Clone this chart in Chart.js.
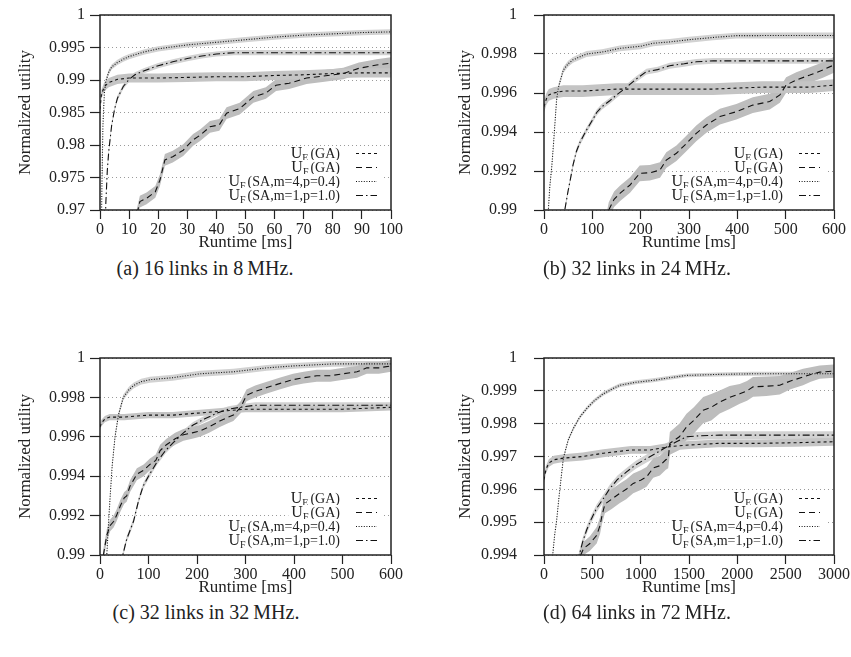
<!DOCTYPE html>
<html>
<head>
<meta charset="utf-8">
<title>Normalized utility vs runtime</title>
<script src="https://cdn.jsdelivr.net/npm/chart.js@4.4.1/dist/chart.umd.min.js"></script>
<style>
  body { margin: 0; background: #fff; }
  #page { position: relative; width: 851px; height: 657px; overflow: hidden;
          font-family: "Liberation Serif", "DejaVu Serif", serif; color: #222; }
  .panel { position: absolute; }
  .caption { position: absolute; font-size: 20px; white-space: nowrap; transform: translate(-50%, -50%); }
</style>
</head>
<body>
<div id="page">
  <div class="panel" style="left:0;top:0"><canvas id="chartA" width="425" height="255"></canvas></div>
  <div class="panel" style="left:420px;top:0"><canvas id="chartB" width="431" height="255"></canvas></div>
  <div class="panel" style="left:0;top:343px"><canvas id="chartC" width="425" height="257"></canvas></div>
  <div class="panel" style="left:420px;top:343px"><canvas id="chartD" width="431" height="257"></canvas></div>
  <div class="caption" style="left:205px;top:268px">(a) 16 links in 8&#8201;MHz.</div>
  <div class="caption" style="left:637px;top:268px">(b) 32 links in 24&#8201;MHz.</div>
  <div class="caption" style="left:206px;top:612px">(c) 32 links in 32&#8201;MHz.</div>
  <div class="caption" style="left:637px;top:612px">(d) 64 links in 72&#8201;MHz.</div>
</div>
<script>
// legend
const keySub = ['E', 'F', 'F', 'F'];
const keyRest = ['(GA)', '(GA)', '(SA,m=4,p=0.4)', '(SA,m=1,p=1.0)'];

// (a) 16 links in 8 MHz
const aGaE_x = [0, 0.5, 1.5, 3, 6, 10, 20, 30, 40, 50, 60, 70, 80, 90, 100];
const aGaE_y = [0.9855, 0.9878, 0.989, 0.9896, 0.9901, 0.9903, 0.9903, 0.9904, 0.9905, 0.9905, 0.9907, 0.9908, 0.991, 0.9911, 0.9911];
const aGaE_e = 0.0007;
const aGaF_x = [12, 13.7, 16, 19, 20.6, 22.3, 25, 28.6, 32, 34.4, 37.8, 41, 43.5, 48, 52.7, 57, 60.5, 65, 71, 76.5, 83.6, 89, 95, 100];
const aGaF_y = [0.968, 0.9713, 0.9718, 0.9728, 0.9746, 0.9777, 0.9782, 0.9792, 0.9808, 0.9815, 0.9828, 0.9831, 0.9849, 0.9856, 0.9874, 0.988, 0.9892, 0.9895, 0.9903, 0.9906, 0.991, 0.9918, 0.9923, 0.9926];
const aGaF_e = 0.0009;
const aSa4_x = [0.3, 0.7, 1, 1.5, 2, 3, 4, 6, 8, 10, 15, 20, 30, 40, 50, 60, 70, 80, 90, 100];
const aSa4_y = [0.962, 0.975, 0.983, 0.988, 0.9898, 0.9912, 0.992, 0.9927, 0.9932, 0.9936, 0.9943, 0.9948, 0.9954, 0.9958, 0.9962, 0.9966, 0.9969, 0.9971, 0.9973, 0.9974];
const aSa4_e = 0.0004;
const aSa1_x = [1.5, 2, 2.5, 3, 4, 5, 6, 8, 10, 12, 15, 20, 25, 30, 35, 40, 46, 60, 100];
const aSa1_y = [0.962, 0.971, 0.976, 0.979, 0.983, 0.9855, 0.9872, 0.989, 0.9901, 0.9908, 0.9914, 0.9922, 0.9928, 0.9933, 0.9937, 0.994, 0.9942, 0.9942, 0.9942];
const aSa1_e = 0.0004;

// (b) 32 links in 24 MHz
const bGaE_x = [0, 5, 10, 20, 40, 80, 150, 250, 350, 450, 550, 600];
const bGaE_y = [0.9953, 0.9957, 0.9959, 0.996, 0.9961, 0.9961, 0.9962, 0.9962, 0.9962, 0.9963, 0.9963, 0.9964];
const bGaE_e = 0.0003;
const bGaF_x = [130, 134, 145, 157, 178, 198, 219, 240, 253, 274, 295, 315, 336, 364, 398, 432, 467, 488, 501, 522, 550, 577, 600];
const bGaF_y = [0.9895, 0.99, 0.99055, 0.99085, 0.99128, 0.99188, 0.99191, 0.99205, 0.99256, 0.99291, 0.99342, 0.99393, 0.99436, 0.99479, 0.99504, 0.99538, 0.99556, 0.9959, 0.99641, 0.99667, 0.99692, 0.99718, 0.99744];
const bGaF_e = 0.0004;
const bSa4_x = [8, 9, 12, 16, 20, 26, 30, 40, 50, 60, 88, 120, 157, 200, 226, 260, 295, 350, 398, 500, 600];
const bSa4_y = [0.989, 0.99, 0.9912, 0.9922, 0.9935, 0.99564, 0.9963, 0.99718, 0.9975, 0.9977, 0.998, 0.9981, 0.99829, 0.9984, 0.99855, 0.99862, 0.99872, 0.99885, 0.99894, 0.99895, 0.99895];
const bSa4_e = 0.00015;
const bSa1_x = [40, 43, 50, 54, 60, 67, 75, 88, 100, 109, 120, 136, 150, 171, 190, 212, 235, 260, 290, 315, 350, 600];
const bSa1_y = [0.9893, 0.99, 0.991, 0.9915, 0.9923, 0.993, 0.9935, 0.9941, 0.9946, 0.995, 0.9953, 0.9956, 0.9959, 0.9963, 0.9967, 0.9971, 0.9972, 0.9974, 0.9975, 0.9976, 0.99765, 0.99765];
const bSa1_e = 0.00015;

// (c) 32 links in 32 MHz
const cGaE_x = [0, 3, 10, 20, 50, 100, 150, 200, 250, 300, 400, 500, 600];
const cGaE_y = [0.9965, 0.9967, 0.9969, 0.997, 0.997, 0.9971, 0.9971, 0.9972, 0.9973, 0.9974, 0.9974, 0.9974, 0.9975];
const cGaE_e = 0.00016;
const cGaF_x = [5, 7, 14, 21, 28, 34, 42, 50, 55, 62, 76, 90, 103, 115, 124, 137, 155, 172, 190, 206, 225, 247, 265, 275, 290, 302, 320, 344, 370, 398, 420, 447, 475, 502, 530, 550, 575, 600];
const cGaF_y = [0.9895, 0.99, 0.991, 0.9915, 0.9917, 0.992, 0.9925, 0.9929, 0.993, 0.9935, 0.9941, 0.9943, 0.9946, 0.9948, 0.9953, 0.9956, 0.9959, 0.9961, 0.9962, 0.9963, 0.9965, 0.9968, 0.997, 0.9971, 0.9975, 0.9981, 0.9983, 0.9985, 0.9987, 0.9989, 0.999, 0.9991, 0.9991, 0.9992, 0.9993, 0.9995, 0.9995, 0.9996];
const cGaF_e = 0.0003;
const cSa4_x = [12, 14, 18, 21, 25, 31, 38, 48, 60, 69, 85, 103, 150, 206, 275, 344, 400, 481, 600];
const cSa4_y = [0.989, 0.99, 0.9918, 0.993, 0.9945, 0.996, 0.9971, 0.998, 0.9984, 0.9986, 0.9988, 0.9989, 0.999, 0.9992, 0.9993, 0.9995, 0.9996, 0.9997, 0.9997];
const cSa4_e = 0.00015;
const cSa1_x = [45, 47, 55, 69, 80, 89, 100, 117, 135, 151, 172, 192, 215, 241, 265, 289, 320, 344, 600];
const cSa1_y = [0.9895, 0.99, 0.9908, 0.9917, 0.9928, 0.9935, 0.994, 0.9947, 0.9953, 0.9957, 0.9962, 0.9966, 0.9969, 0.9972, 0.9974, 0.9975, 0.9976, 0.9976, 0.9976];
const cSa1_e = 0.00015;

// (d) 64 links in 72 MHz
const dGaE_x = [0, 20, 50, 100, 200, 400, 613, 900, 1100, 1302, 1500, 1800, 2200, 2600, 3000];
const dGaE_y = [0.9963, 0.9966, 0.9968, 0.9969, 0.99695, 0.997, 0.9971, 0.9972, 0.9972, 0.9973, 0.99735, 0.9974, 0.9974, 0.99742, 0.99745];
const dGaE_e = 0.00012;
const dGaF_x = [350, 380, 410, 475, 545, 580, 600, 630, 700, 785, 850, 923, 1000, 1061, 1130, 1199, 1260, 1285, 1302, 1400, 1474, 1550, 1647, 1730, 1818, 1920, 2025, 2100, 2163, 2300, 2439, 2550, 2680, 2760, 2852, 3000];
const dGaF_y = [0.9937, 0.994, 0.9942, 0.99435, 0.9946, 0.9949, 0.9952, 0.99555, 0.9957, 0.99588, 0.996, 0.99618, 0.99628, 0.99638, 0.99665, 0.99672, 0.9969, 0.99694, 0.9974, 0.9976, 0.9979, 0.9981, 0.99841, 0.9985, 0.99866, 0.9988, 0.99891, 0.999, 0.99912, 0.99914, 0.99917, 0.9993, 0.99942, 0.9995, 0.99957, 0.9996];
const dGaF_e = [0.0002, 0.0002, 0.0002, 0.00022, 0.00025, 0.00025, 0.00025, 0.00028, 0.0003, 0.0003, 0.0003, 0.0003, 0.0003, 0.0003, 0.0003, 0.0003, 0.0003, 0.0003, 0.00035, 0.0004, 0.0004, 0.0004, 0.0004, 0.0004, 0.00035, 0.00035, 0.0003, 0.0003, 0.0003, 0.0003, 0.00028, 0.00025, 0.00025, 0.00022, 0.0002, 0.0002];
const dSa4_x = [85, 90, 110, 131, 160, 200, 250, 303, 370, 441, 520, 613, 700, 785, 950, 1130, 1300, 1474, 1800, 2163, 3000];
const dSa4_y = [0.9935, 0.994, 0.9946, 0.99506, 0.9959, 0.99694, 0.9975, 0.99785, 0.9982, 0.99846, 0.9987, 0.99891, 0.99905, 0.99917, 0.99926, 0.99932, 0.9994, 0.99947, 0.9995, 0.99952, 0.99952];
const dSa4_e = 0.00006;
const dSa1_x = [350, 365, 400, 441, 490, 544, 610, 682, 760, 854, 950, 1061, 1160, 1268, 1370, 1474, 1600, 1818, 3000];
const dSa1_y = [0.9938, 0.994, 0.9944, 0.99476, 0.9951, 0.99542, 0.9957, 0.99603, 0.9963, 0.99653, 0.99675, 0.99694, 0.9971, 0.99729, 0.99745, 0.9976, 0.99763, 0.99765, 0.99765];
const dSa1_e = 0.00012;

const FONT = '"Liberation Serif", "DejaVu Serif", serif';
const dashes = [[3, 3], [6, 4], [1, 1.6], [7, 3, 1.5, 3]];
const bandColors = ['#c4c4c4', '#bdbdbd', '#d2d2d2', '#d2d2d2'];

function series(xs, ys, err, k) {
  const e = i => Array.isArray(err) ? err[i] : err;
  const lo = xs.map((x, i) => ({x: x, y: ys[i] - e(i)}));
  const hi = xs.map((x, i) => ({x: x, y: ys[i] + e(i)}));
  const mid = xs.map((x, i) => ({x: x, y: ys[i]}));
  return [
    {data: lo, borderColor: 'rgba(0,0,0,0)', borderWidth: 0, pointRadius: 0, fill: false},
    {data: hi, borderColor: 'rgba(0,0,0,0)', borderWidth: 0, pointRadius: 0, fill: '-1', backgroundColor: bandColors[k]},
    {data: mid, borderColor: '#111', borderWidth: 1.1, borderDash: dashes[k], pointRadius: 0, fill: false}
  ];
}

// frame + key drawn inside the plot
const frameKey = {
  id: 'frameKey',
  afterDatasetsDraw(chart) {
    const {ctx, chartArea: {left, top, right, bottom}} = chart;
    const rowsY = [bottom - 57, bottom - 43, bottom - 29, bottom - 15];
    const textRight = right - 51;
    ctx.save();
    keyRest.forEach((rest, i) => {
      ctx.font = '16px ' + FONT;
      const wU = ctx.measureText('U').width;
      ctx.font = '10px ' + FONT;
      const wS = ctx.measureText(keySub[i]).width;
      ctx.font = '14px ' + FONT;
      const wR = ctx.measureText(rest).width;
      const x0 = textRight - (wU + wS + 2 + wR);
      const y = rowsY[i];
      ctx.fillStyle = '#fff';
      ctx.fillRect(x0 - 3, y - 7, right - 9 - (x0 - 3), 14);
      ctx.fillStyle = '#222';
      ctx.textBaseline = 'alphabetic';
      ctx.textAlign = 'left';
      ctx.font = '16px ' + FONT;
      ctx.fillText('U', x0, y + 5);
      ctx.font = '10px ' + FONT;
      ctx.fillText(keySub[i], x0 + wU, y + 8);
      ctx.font = '14px ' + FONT;
      ctx.fillText(rest, x0 + wU + wS + 2, y + 5);
      ctx.strokeStyle = '#111';
      ctx.lineWidth = 1.1;
      ctx.setLineDash(dashes[i]);
      ctx.beginPath();
      ctx.moveTo(right - 35, y + 0.5);
      ctx.lineTo(right - 14, y + 0.5);
      ctx.stroke();
    });
    ctx.setLineDash([]);
    ctx.strokeStyle = '#222';
    ctx.lineWidth = 1.5;
    ctx.strokeRect(left, top, right - left, bottom - top);
    ctx.restore();
  }
};

function makeChart(id, sets, yMin, yMax, yStep, xMax, xStep, plotLeft, plotRight, yPad, yTitlePad) {
  const canvas = document.getElementById(id);
  const datasets = [];
  sets.forEach((s, k) => datasets.push(...series(s[0], s[1], s[2], k)));
  new Chart(canvas, {
    type: 'line',
    data: {datasets: datasets},
    plugins: [frameKey],
    options: {
      responsive: false,
      animation: false,
      events: [],
      layout: {padding: {top: 15, right: canvas.width - plotRight, left: 0, bottom: 0}},
      plugins: {legend: {display: false}, tooltip: {enabled: false}, filler: {drawTime: 'beforeDatasetsDraw'}},
      scales: {
        x: {
          type: 'linear', min: 0, max: xMax,
          afterFit: s => { s.height = 45; s.paddingLeft = 0; s.paddingRight = 0; },
          border: {display: false},
          grid: {drawOnChartArea: false, drawTicks: true, tickLength: 9, tickColor: '#222', tickWidth: 1.2, tickBorderDash: []},
          ticks: {stepSize: xStep, autoSkip: false, maxRotation: 0, padding: 1, color: '#222',
                  font: {family: FONT, size: 16}, callback: v => String(v)},
          title: {display: true, text: 'Runtime [ms]', color: '#222', font: {family: FONT, size: 17}, padding: {top: 0, bottom: 2}}
        },
        y: {
          min: yMin, max: yMax,
          afterFit: s => { s.width = plotLeft; s.paddingTop = 0; s.paddingBottom = 0; },
          border: {display: false, dash: [1, 3]},
          grid: {color: '#9a9a9a', lineWidth: 1, drawTicks: true, tickLength: 10, tickColor: '#222', tickWidth: 1.2, tickBorderDash: []},
          ticks: {stepSize: yStep, padding: yPad, color: '#222', font: {family: FONT, size: 16},
                  callback: v => String(+v.toFixed(4))},
          title: {display: true, text: 'Normalized utility', color: '#222', font: {family: FONT, size: 17}, padding: {top: yTitlePad, bottom: 0}}
        }
      }
    }
  });
}

makeChart('chartA', [[aGaE_x, aGaE_y, aGaE_e], [aGaF_x, aGaF_y, aGaF_e], [aSa4_x, aSa4_y, aSa4_e], [aSa1_x, aSa1_y, aSa1_e]],
  0.97, 1, 0.005, 100, 10, 100, 391, 5, 15);
makeChart('chartB', [[bGaE_x, bGaE_y, bGaE_e], [bGaF_x, bGaF_y, bGaF_e], [bSa4_x, bSa4_y, bSa4_e], [bSa1_x, bSa1_y, bSa1_e]],
  0.99, 1, 0.002, 600, 100, 124, 414, 17, 35);
makeChart('chartC', [[cGaE_x, cGaE_y, cGaE_e], [cGaF_x, cGaF_y, cGaF_e], [cSa4_x, cSa4_y, cSa4_e], [cSa1_x, cSa1_y, cSa1_e]],
  0.99, 1, 0.002, 600, 100, 100, 391, 5, 15);
makeChart('chartD', [[dGaE_x, dGaE_y, dGaE_e], [dGaF_x, dGaF_y, dGaF_e], [dSa4_x, dSa4_y, dSa4_e], [dSa1_x, dSa1_y, dSa1_e]],
  0.994, 1, 0.001, 3000, 500, 124, 414, 17, 35);
</script>
</body>
</html>
